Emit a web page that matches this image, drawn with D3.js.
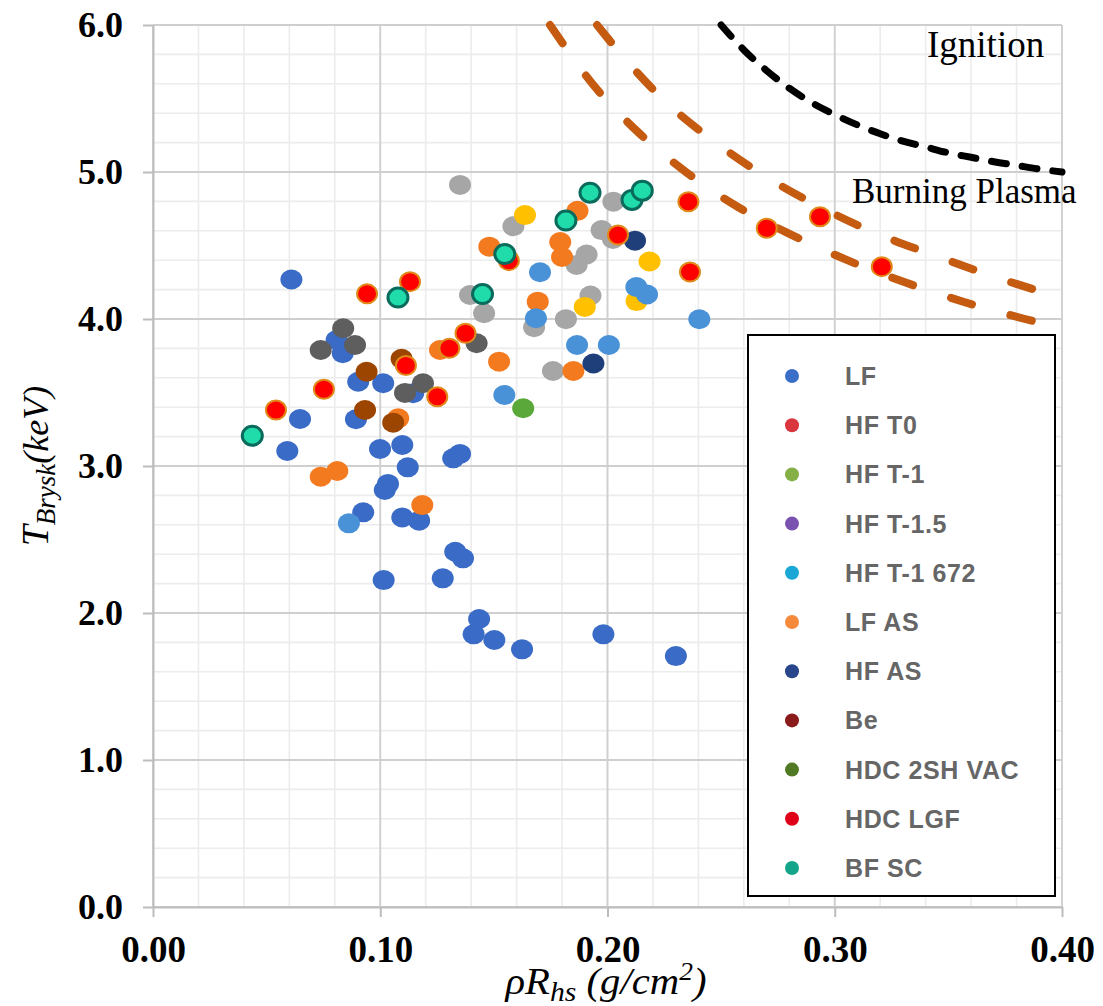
<!DOCTYPE html>
<html>
<head>
<meta charset="utf-8">
<script src="https://cdn.jsdelivr.net/npm/d3@7"></script>
<style>
	body { margin: 0; background: #fff; }
	svg { display: block; }
</style>
</head>
<body>
<svg id="chart" width="1103" height="1006"></svg>
<script>
// ---- data (rhoR in g/cm2, T in keV), grouped by marker style ----
var ptsLightGrey = [[0.1351,4.912],[0.2026,4.798],[0.1586,4.631],[0.1974,4.605],[0.2024,4.544],[0.1908,4.439],
	[0.1864,4.367],[0.1395,4.163],[0.1457,4.039],[0.1677,3.944],[0.1925,4.160],[0.1817,3.999],[0.1760,3.646]];
var ptsBlue = [[0.0609,4.269],[0.0808,3.857],[0.0835,3.767],[0.0903,3.573],[0.1013,3.563],[0.1145,3.495],
	[0.0647,3.320],[0.0893,3.318],[0.0591,3.102],[0.0999,3.116],[0.1097,3.143],[0.1321,3.052],[0.1351,3.082],
	[0.1121,2.991],[0.1020,2.837],[0.1034,2.878],[0.0925,2.685],[0.1097,2.650],[0.1171,2.628],[0.1330,2.417],
	[0.1364,2.372],[0.1015,2.224],[0.1275,2.236],[0.1435,1.959],[0.1411,1.855],[0.1502,1.816],[0.1624,1.753],
	[0.1982,1.855],[0.2301,1.707]];
var ptsOrange = [[0.1263,3.789],[0.1523,3.710],[0.1079,3.324],[0.0738,2.927],[0.0811,2.966],[0.1185,2.734],
	[0.1868,4.736],[0.1480,4.492],[0.1792,4.524],[0.1800,4.422],[0.1693,4.118],[0.1850,3.646]];
var ptsYellow = [[0.1637,4.707],[0.2185,4.391],[0.1900,4.082],[0.2128,4.122]];
var ptsLightBlue = [[0.0862,2.610],[0.1546,3.483],[0.1703,4.318],[0.1685,4.005],[0.2127,4.218],[0.2174,4.167],
	[0.2404,3.998],[0.1866,3.823],[0.2006,3.823]];
var ptsDarkGrey = [[0.0837,3.937],[0.0738,3.789],[0.0889,3.823],[0.1424,3.835],[0.1109,3.497],[0.1188,3.563]];
var ptsBrown = [[0.1094,3.729],[0.0940,3.641],[0.0933,3.381],[0.1057,3.295]];
var ptsNavy = [[0.2121,4.533],[0.1938,3.697]];
var ptsGreen = [[0.1629,3.393]];
var ptsRed = [[0.0942,4.171],[0.1131,4.254],[0.1375,3.903],[0.1304,3.801],[0.1113,3.684],[0.0752,3.522],
	[0.1251,3.471],[0.0541,3.381],[0.1566,4.397],[0.2046,4.571],[0.2356,4.798],[0.2363,4.320],[0.2701,4.617],
	[0.2935,4.696],[0.3207,4.356]];
var ptsTeal = [[0.1078,4.146],[0.1450,4.170],[0.0437,3.206],[0.1923,4.859],[0.2108,4.810],[0.2153,4.873],
	[0.1817,4.670],[0.1548,4.442]];

// threshold curves
var ignitionCurve = [[0.25,6.0],[0.26,5.83],[0.27,5.69],[0.28,5.57],[0.29,5.47],[0.30,5.39],[0.31,5.32],
	[0.32,5.26],[0.33,5.21],[0.34,5.17],[0.35,5.13],[0.36,5.10],[0.37,5.07],[0.38,5.045],[0.39,5.02],[0.40,5.0]];
var burningLower = [[0.1747,6.0],[0.1949,5.571],[0.2134,5.272],[0.2345,5.0],[0.2574,4.762],[0.2812,4.571],
	[0.3063,4.395],[0.3318,4.245],[0.3569,4.116],[0.3837,4.0],[0.40,3.939]];
var burningUpper = [[0.1954,6.0],[0.2081,5.762],[0.2266,5.463],[0.2473,5.204],[0.2706,4.959],[0.2944,4.755],
	[0.3190,4.578],[0.3446,4.429],[0.3705,4.286],[0.40,4.143]];

var legendLabels = ['LF', 'HF T0', 'HF T-1', 'HF T-1.5', 'HF T-1 672', 'LF AS', 'HF AS', 'Be',
	'HDC 2SH VAC', 'HDC LGF', 'BF SC'];
var legendColors = ['#3b6ec9', '#d9363e', '#84b046', '#7a52b0', '#1aa7d6', '#f58a3a', '#27478a', '#8b1a1a',
	'#4f7a23', '#e0001a', '#12a58a'];

var xTicks = [0, 0.1, 0.2, 0.3, 0.4];
var yTicks = [0, 1, 2, 3, 4, 5, 6];

// ---- layout ----
var svg = d3.select('#chart');
var x = d3.scaleLinear().domain([0, 0.4]).range([153, 1062]);
var y = d3.scaleLinear().domain([0, 6]).range([907, 25]);

var serif = '"Liberation Serif", "Times New Roman", serif';
var sans = '"Liberation Sans", Arial, sans-serif';

// grid
var gx = svg.append('g');
gx.selectAll('.vmin').data(d3.range(0, 0.4001, 0.02)).enter().append('line')
	.attr('x1', d => x(d)).attr('x2', d => x(d)).attr('y1', y(6)).attr('y2', y(0))
	.attr('stroke', '#ececec').attr('stroke-width', 1.6);
gx.selectAll('.hmin').data(d3.range(0, 6.001, 0.2)).enter().append('line')
	.attr('y1', d => y(d)).attr('y2', d => y(d)).attr('x1', x(0)).attr('x2', x(0.4))
	.attr('stroke', '#ececec').attr('stroke-width', 1.6);
gx.selectAll('.vmaj').data(xTicks).enter().append('line')
	.attr('x1', d => x(d)).attr('x2', d => x(d)).attr('y1', y(6)).attr('y2', y(0))
	.attr('stroke', '#cfcfcf').attr('stroke-width', 1.8);
gx.selectAll('.hmaj').data(yTicks).enter().append('line')
	.attr('y1', d => y(d)).attr('y2', d => y(d)).attr('x1', x(0)).attr('x2', x(0.4))
	.attr('stroke', '#cfcfcf').attr('stroke-width', 1.8);

// axes
var xAxis = svg.append('g').attr('transform', 'translate(0,' + y(0) + ')')
	.call(d3.axisBottom(x).tickValues(xTicks).tickFormat(d3.format('.2f')).tickSizeInner(10).tickSizeOuter(0).tickPadding(19));
var yAxis = svg.append('g').attr('transform', 'translate(' + x(0) + ',0)')
	.call(d3.axisLeft(y).tickValues(yTicks).tickFormat(d3.format('.1f')).tickSizeInner(10).tickSizeOuter(0).tickPadding(20));
[xAxis, yAxis].forEach(function(a) {
	a.select('.domain').attr('stroke', '#bdbdbd').attr('stroke-width', 2);
	a.selectAll('.tick line').attr('stroke', '#bdbdbd').attr('stroke-width', 2);
	a.selectAll('.tick text').attr('fill', '#000').attr('font-family', serif).attr('font-weight', 'bold');
});
xAxis.selectAll('.tick text').attr('font-size', 37);
yAxis.selectAll('.tick text').attr('font-size', 36);

// threshold curves
var line = d3.line().x(d => x(d[0])).y(d => y(d[1])).curve(d3.curveMonotoneX);
[burningLower, burningUpper].forEach(function(c) {
	svg.append('path').attr('d', line(c)).attr('fill', 'none')
		.attr('stroke', '#c55a11').attr('stroke-width', 8)
		.attr('stroke-linecap', 'round').attr('stroke-dasharray', '22,40');
});
svg.append('path').attr('d', line(ignitionCurve)).attr('fill', 'none')
	.attr('stroke', '#000').attr('stroke-width', 7)
	.attr('stroke-linecap', 'round').attr('stroke-dasharray', '15,16');

// points, drawn bottom to top
var groups = [
	{pts: ptsLightGrey, fill: '#a6a6a6'},
	{pts: ptsBlue, fill: '#3a6bc6'},
	{pts: ptsOrange, fill: '#f47a20'},
	{pts: ptsYellow, fill: '#ffc000'},
	{pts: ptsLightBlue, fill: '#4a92d8'},
	{pts: ptsDarkGrey, fill: '#5e5e5e'},
	{pts: ptsBrown, fill: '#9c4500'},
	{pts: ptsNavy, fill: '#1f3f7a'},
	{pts: ptsGreen, fill: '#5aa83a'},
	{pts: ptsRed, fill: '#ff0000', stroke: '#e08a1a', sw: 2},
	{pts: ptsTeal, fill: '#1fdcaa', stroke: '#0a6b5c', sw: 3}
];
groups.forEach(function(g) {
	svg.append('g').selectAll('ellipse').data(g.pts).enter().append('ellipse')
		.attr('cx', d => x(d[0])).attr('cy', d => y(d[1]))
		.attr('rx', g.stroke ? 10 : 11).attr('ry', g.stroke ? 9.5 : 10)
		.attr('fill', g.fill)
		.attr('stroke', g.stroke || 'none')
		.attr('stroke-width', g.sw || 0);
});

// annotations
svg.append('text').attr('x', 927).attr('y', 57).attr('font-family', serif).attr('font-size', 37)
	.text('Ignition');
svg.append('text').attr('x', 852).attr('y', 203).attr('font-family', serif).attr('font-size', 35)
	.text('Burning Plasma');

// legend
var lg = svg.append('g');
lg.append('rect').attr('x', 748).attr('y', 335).attr('width', 307).attr('height', 561)
	.attr('fill', '#fff').attr('stroke', '#000').attr('stroke-width', 2);
var rows = lg.selectAll('.row').data(legendLabels).enter().append('g')
	.attr('transform', (d, i) => 'translate(792,' + (376 + i * 49.2) + ')');
rows.append('circle').attr('r', 7).attr('fill', (d, i) => legendColors[i]);
rows.append('text').attr('x', 53).attr('dy', '0.36em')
	.attr('font-family', sans).attr('font-weight', 'bold').attr('font-size', 25)
	.attr('letter-spacing', 0.6)
	.attr('fill', '#666').text(d => d);

// axis titles
var xt = svg.append('text').attr('transform', 'translate(606,994) scale(1.1,1)').attr('text-anchor', 'middle')
	.attr('font-family', serif).attr('font-style', 'italic').attr('font-size', 37);
xt.append('tspan').text('ρR');
xt.append('tspan').attr('font-size', 27).attr('dy', 7).text('hs');
xt.append('tspan').attr('dy', -7).text(' (g/cm');
xt.append('tspan').attr('font-size', 25).attr('dy', -14).text('2');
xt.append('tspan').attr('dy', 14).text(')');

var yt = svg.append('text').attr('transform', 'translate(48,466) rotate(-90)').attr('text-anchor', 'middle')
	.attr('font-family', serif).attr('font-style', 'italic').attr('font-size', 38);
yt.append('tspan').text('T');
yt.append('tspan').attr('font-size', 27).attr('dy', 7).text('Brysk');
yt.append('tspan').attr('dy', -7).attr('font-size', 36).text('(keV)');
</script>
</body>
</html>
